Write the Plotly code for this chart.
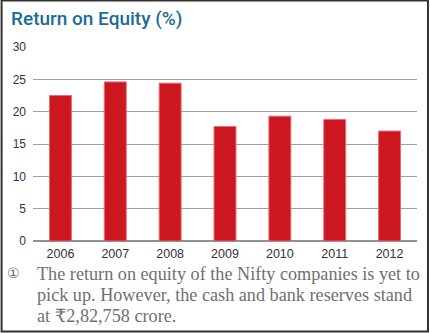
import plotly.graph_objects as go

# Return on equity of Nifty companies, by year (%)
years = ["2006", "2007", "2008", "2009", "2010", "2011", "2012"]
roe = [22.5, 24.6, 24.4, 17.7, 19.3, 18.8, 17.0]
y_ticks = [0, 5, 10, 15, 20, 25, 30]

title_text = "Return on Equity (%)"
note_lines = [
    "The return on equity of the Nifty companies is yet to",
    "pick up. However, the cash and bank reserves stand",
    "at \u20b92,82,758 crore.",
]

W, H = 430, 333
ML, MR, MT, MB = 32.5, 12.5, 47, 92
PW, PH = W - ML - MR, H - MT - MB


def px(x):
    return (x - ML) / PW


def py(y):
    return (H - MB - y) / PH


fig = go.Figure(
    go.Bar(
        x=years,
        y=roe,
        marker=dict(color="#cc1720", line=dict(color="#e86a72", width=1)),
        width=0.4,
        hoverinfo="x+y",
    )
)

annotations = [
    dict(
        text=title_text, x=px(8), y=py(18), xref="paper", yref="paper",
        xanchor="left", yanchor="middle", showarrow=False,
        font=dict(family="Roboto, sans-serif", size=19, color="#1a6d96", weight=500),
    ),
    dict(
        text="\u2460", x=px(13), y=py(273), xref="paper", yref="paper",
        xanchor="center", yanchor="middle", showarrow=False,
        font=dict(family="DejaVu Sans, sans-serif", size=14, color="#666666"),
    ),
]
for i, line in enumerate(note_lines):
    annotations.append(dict(
        text=line, x=px(35), y=py(273.5 + 21 * i), xref="paper", yref="paper",
        xanchor="left", yanchor="middle", showarrow=False,
        font=dict(family="Liberation Serif, DejaVu Serif, serif", size=18.2, color="#707070"),
    ))

shapes = [
    # outer frame
    dict(type="rect", xref="paper", yref="paper",
         x0=px(1), x1=px(W - 1.5), y0=py(H - 1.5), y1=py(0.5),
         line=dict(color="#333333", width=2), fillcolor="rgba(0,0,0,0)", layer="above"),
]

fig.update_layout(
    width=W, height=H,
    margin=dict(l=ML, r=MR, t=MT, b=MB, pad=0),
    paper_bgcolor="white", plot_bgcolor="white",
    showlegend=False,
    annotations=annotations,
    shapes=shapes,
    xaxis=dict(
        type="category", range=[-0.5, 6.5], showgrid=False, showline=False,
        ticks="", ticklabelstandoff=3,
        tickfont=dict(family="Liberation Sans, Arial, sans-serif", size=12.5, color="#333333"),
    ),
    yaxis=dict(
        range=[0, 30], tickvals=y_ticks, showgrid=True, gridcolor="#a0a0a0", gridwidth=1,
        zeroline=True, zerolinecolor="#909090", zerolinewidth=1.5, showline=False, ticks="",
        ticklabelstandoff=6,
        tickfont=dict(family="Liberation Sans, Arial, sans-serif", size=12, color="#333333"),
    ),
)

fig.write_html("out.html")
